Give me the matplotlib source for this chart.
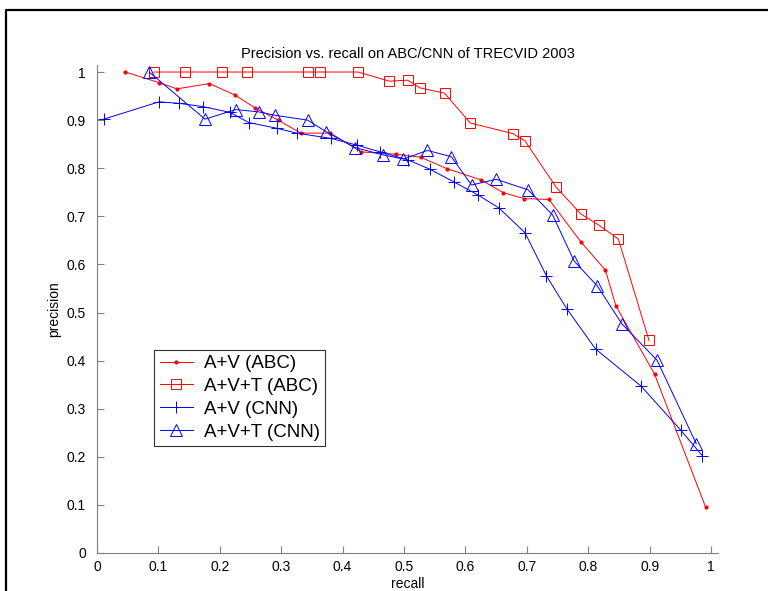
import matplotlib
matplotlib.use("Agg")
import matplotlib.pyplot as plt
from matplotlib.lines import Line2D

plt.rcParams['font.family'] = ['Liberation Sans', 'DejaVu Sans']

# A+V (ABC)
rec_av_abc = [0.046, 0.101, 0.130, 0.183, 0.225, 0.258, 0.295, 0.332, 0.380, 0.430, 0.487,
              0.527, 0.570, 0.625, 0.662, 0.695, 0.736, 0.788, 0.828, 0.845, 0.908, 0.991]
prec_av_abc = [1.0, 0.978, 0.965, 0.976, 0.952, 0.925, 0.900, 0.873, 0.873, 0.834, 0.829,
               0.823, 0.799, 0.776, 0.749, 0.737, 0.735, 0.647, 0.588, 0.514, 0.372, 0.096]

# A+V+T (ABC)
rec_avt_abc = [0.093, 0.143, 0.204, 0.244, 0.344, 0.363, 0.425, 0.476, 0.506, 0.526,
               0.566, 0.608, 0.677, 0.697, 0.748, 0.788, 0.818, 0.849, 0.899]
prec_avt_abc = [1.0, 1.0, 1.0, 1.0, 1.0, 1.0, 1.0, 0.981, 0.983, 0.967,
                0.956, 0.894, 0.872, 0.857, 0.760, 0.705, 0.681, 0.653, 0.442]

# A+V (CNN)
rec_av_cnn = [0.011, 0.101, 0.133, 0.173, 0.217, 0.247, 0.293, 0.325, 0.381, 0.423, 0.461, 0.507,
              0.542, 0.582, 0.621, 0.655, 0.697, 0.732, 0.765, 0.812, 0.886, 0.951, 0.986]
prec_av_cnn = [0.902, 0.938, 0.935, 0.928, 0.916, 0.895, 0.883, 0.873, 0.862, 0.848, 0.834, 0.817,
               0.798, 0.771, 0.744, 0.717, 0.666, 0.576, 0.508, 0.424, 0.347, 0.255, 0.202]

# A+V+T (CNN)
rec_avt_cnn = [0.085, 0.176, 0.226, 0.264, 0.290, 0.343, 0.373, 0.420, 0.465, 0.499, 0.538,
               0.577, 0.610, 0.650, 0.702, 0.742, 0.777, 0.815, 0.855, 0.912, 0.976]
prec_avt_cnn = [1.0, 0.902, 0.922, 0.917, 0.910, 0.900, 0.876, 0.843, 0.828, 0.819, 0.837,
                0.824, 0.765, 0.777, 0.755, 0.703, 0.607, 0.555, 0.476, 0.401, 0.227]

labels = ["A+V (ABC)", "A+V+T (ABC)", "A+V (CNN)", "A+V+T (CNN)"]
ticks = [0, 0.1, 0.2, 0.3, 0.4, 0.5, 0.6, 0.7, 0.8, 0.9, 1]
tick_labels = ["0", "0.1", "0.2", "0.3", "0.4", "0.5", "0.6", "0.7", "0.8", "0.9", "1"]

fig = plt.figure(figsize=(7.68, 5.91), dpi=100)
ax = fig.add_axes([97 / 768, 38 / 591, 621.4 / 768, 488 / 591])

ax.plot(rec_av_abc, prec_av_abc, color="red", lw=0.7, marker=".", ms=4, label=labels[0])
ax.plot(rec_avt_abc, prec_avt_abc, color="red", lw=0.7, marker="s", ms=7, mfc="none", mew=0.7, label=labels[1])
ax.plot(rec_av_cnn, prec_av_cnn, color="blue", lw=0.7, marker="+", ms=9, mew=0.7, label=labels[2])
ax.plot(rec_avt_cnn, prec_avt_cnn, color="blue", lw=0.7, marker="^", ms=8, mfc="none", mew=0.7, label=labels[3])

ax.set_xlim(0, 1.012)
ax.set_ylim(0, 1.0146)
ax.set_xticks(ticks)
ax.set_xticklabels(tick_labels)
ax.set_yticks(ticks)
ax.set_yticklabels(tick_labels)
ax.tick_params(direction="in", length=5, width=0.8, color="#808080", labelsize=10)
ax.tick_params(axis="x", pad=5)
ax.tick_params(axis="y", pad=8)

for s in ["top", "right"]:
    ax.spines[s].set_visible(False)
for s in ["left", "bottom"]:
    ax.spines[s].set_color("#808080")
    ax.spines[s].set_linewidth(0.8)

ax.set_title("Precision vs. recall on ABC/CNN of TRECVID 2003", fontsize=10.5, pad=5)
ax.set_xlabel("recall", fontsize=10, labelpad=2)
ax.set_ylabel("precision", fontsize=10, labelpad=4)

leg = ax.legend(loc="lower left", bbox_to_anchor=(0.0917, 0.219), borderaxespad=0,
                fontsize=13.5, fancybox=False, handlelength=1.8, handletextpad=0.55,
                labelspacing=0.3, borderpad=0.3)
leg.get_frame().set_edgecolor("black")
leg.get_frame().set_linewidth(0.8)

# figure frame (left and top edges visible)
fig.add_artist(Line2D([6 / 768, 6 / 768, 1.0], [0.0, 1 - 10 / 591, 1 - 10 / 591],
                      transform=fig.transFigure, color="black", lw=1.6))

fig.savefig("out.png", dpi=100)
